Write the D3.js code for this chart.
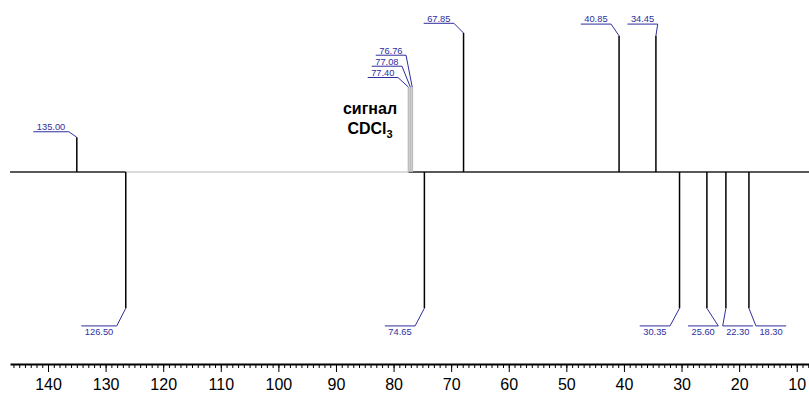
<!DOCTYPE html>
<html><head><meta charset="utf-8">
<script src="https://cdn.jsdelivr.net/npm/d3@7"></script>
<style>body{margin:0;background:#fff}svg{display:block}</style>
</head><body>
<script>
// ---- data ----
const shifts      = [135.00, 126.50, 77.40, 77.08, 76.76, 74.65, 67.85, 40.85, 34.45, 30.35, 25.60, 22.30, 18.30];
const intensities = [0.25,  -0.98,   0.61,  0.61,  0.61, -0.98,  1.00,  0.98,  0.98, -0.98, -0.98, -0.98, -0.98];
const isSolvent   = [false, false, true, true, true, false, false, false, false, false, false, false, false];
const solventRange = [126.50, 77.40];
const majorTicks = [140,130,120,110,100,90,80,70,60,50,40,30,20,10];
const solventText = ["сигнал", "CDCl", "3"];

// ---- layout (label leader geometry: connecting end offset from peak x, underline offset from tip y, which end connects) ----
const labelLayout = [
  {dx:-8,   dy:-5.5,  end:"R"},
  {dx:-9,   dy:17.7,  end:"R"},
  {dx:-10.6,dy:-9.7,  end:"R"},
  {dx:-8.4, dy:-21,   end:"R"},
  {dx:-6.2, dy:-32,   end:"R"},
  {dx:-9.3, dy:17.7,  end:"R"},
  {dx:-9.6, dy:-9.7,  end:"R"},
  {dx:-8,   dy:-11.7, end:"R"},
  {dx:1.8,  dy:-11.7, end:"R"},
  {dx:-9.5, dy:17.7,  end:"R"},
  {dx:11.4, dy:17.7,  end:"R"},
  {dx:-3.2, dy:17.7,  end:"L"},
  {dx:7,    dy:17.7,  end:"L"}
];

const W = 809, H = 396;
const svg = d3.select("body").append("svg").attr("width", W).attr("height", H);

const x = d3.scaleLinear().domain([146.6, 7.87]).range([10, 809]);
const y = d3.scaleLinear().domain([-1, 1]).range([172 + 139, 172 - 139]);

const blue = "#2e2e9e";

// baseline
const segs = [
  [x.domain()[0], solventRange[0], "#222"],
  [solventRange[0], solventRange[1], "#cfcfcf"],
  [solventRange[1], x.domain()[1], "#222"]
];
svg.selectAll("line.base").data(segs).join("line")
  .attr("x1", d => x(d[0])).attr("x2", d => x(d[1]))
  .attr("y1", y(0)).attr("y2", y(0))
  .attr("stroke", d => d[2]).attr("stroke-width", 1.3);

// peaks
const peaks = shifts.map((s, i) => ({s, v: intensities[i], solvent: isSolvent[i], lay: labelLayout[i]}));
svg.selectAll("line.peak").data(peaks).join("line")
  .attr("x1", d => x(d.s)).attr("x2", d => x(d.s))
  .attr("y1", y(0)).attr("y2", d => y(d.v))
  .attr("stroke", d => d.solvent ? "#bdbdbd" : "#000")
  .attr("stroke-width", d => d.solvent ? 1.8 : 1.5);

// labels
const lg = svg.append("g");
peaks.forEach(d => {
  const px = x(d.s), py = y(d.v);
  const uy = py + d.lay.dy;
  const cx = px + d.lay.dx;
  const t = lg.append("text")
    .attr("font-family", "Arial, 'Liberation Sans', sans-serif")
    .attr("font-size", 9.3).attr("fill", blue)
    .text(d.s.toFixed(2));
  const tw = t.node().getComputedTextLength();
  const uw = tw + 7;
  const x0 = d.lay.end === "R" ? cx - uw : cx;
  const x1 = x0 + uw;
  t.attr("x", (x0 + x1) / 2).attr("text-anchor", "middle")
   .attr("y", d.v > 0 ? uy - 1.6 : uy + 9.2);
  lg.append("path")
    .attr("d", `M${x0},${uy}H${x1}M${cx},${uy}L${px},${py}`)
    .attr("fill", "none").attr("stroke", blue).attr("stroke-width", 1);
});

// solvent annotation
const st = svg.append("text").attr("font-family", "Arial, 'Liberation Sans', sans-serif")
  .attr("font-weight", "bold").attr("font-size", 16).attr("text-anchor", "middle").attr("fill", "#000");
st.append("tspan").attr("x", 370).attr("y", 114).text(solventText[0]);
const t2 = st.append("tspan").attr("x", 370).attr("y", 133.5);
t2.append("tspan").text(solventText[1]);
t2.append("tspan").attr("font-size", 11).attr("dy", 4).text(solventText[2]);

// axis
const axisY = 364;
const minorTicks = d3.range(8, 147);
svg.append("g").attr("transform", `translate(0,${axisY})`)
  .call(d3.axisBottom(x).tickValues(minorTicks).tickSize(4).tickSizeOuter(0).tickFormat(""))
  .call(g => g.select(".domain").remove())
  .call(g => g.selectAll("line").attr("stroke", "#000").attr("stroke-width", 1));
const ax = svg.append("g").attr("transform", `translate(0,${axisY})`)
  .call(d3.axisBottom(x).tickValues(majorTicks).tickSize(8).tickSizeOuter(0).tickPadding(7).tickFormat(d3.format("d")));
ax.select(".domain").attr("stroke", "#000").attr("stroke-width", 2);
ax.selectAll("line").attr("stroke", "#000").attr("stroke-width", 1);
ax.selectAll("text").attr("font-family", "Arial, 'Liberation Sans', sans-serif").attr("font-size", 16).attr("fill", "#000");
</script>
</body></html>
